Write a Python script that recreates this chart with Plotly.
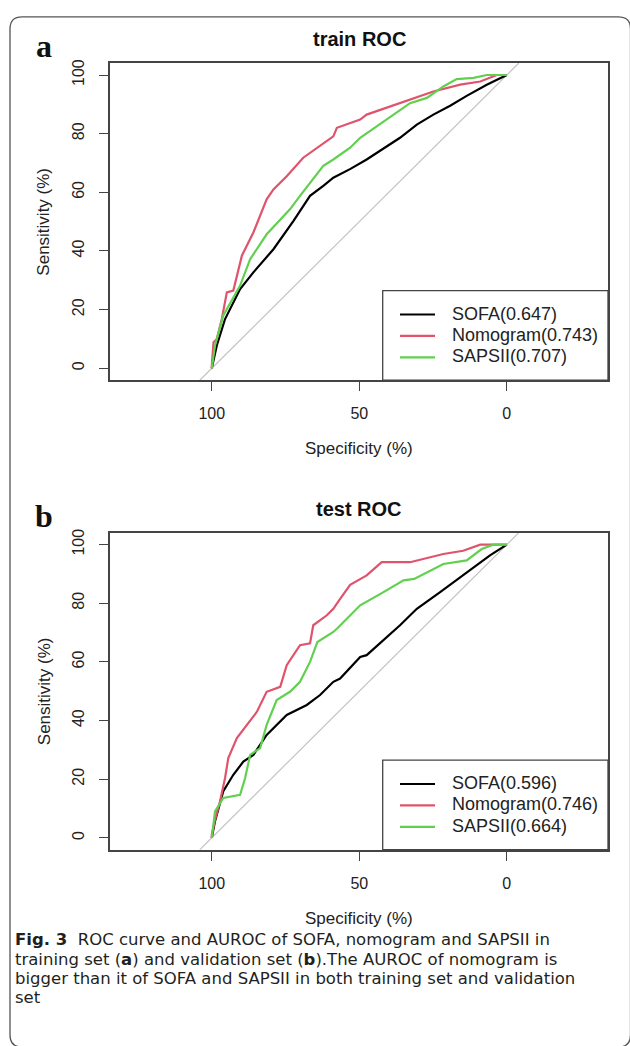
import plotly.graph_objects as go

# ---------------- data ----------------
model_names = ["SOFA", "Nomogram", "SAPSII"]
train_auc = ["0.647", "0.743", "0.707"]
test_auc = ["0.596", "0.746", "0.664"]
x_ticks = [100, 50, 0]
y_ticks = [0, 20, 40, 60, 80, 100]

train_sofa_spec = [100, 98.3, 95.5, 90.4, 85.9, 79.1, 72.3, 69.5, 66.7, 62.2, 58.8, 53, 47.5, 36.2, 30.5, 24.9, 19.2, 13.6, 6.8, 0]
train_sofa_sens = [0, 7.8, 16.8, 27, 32.7, 40.6, 50.3, 54.5, 58.8, 62.2, 65, 68, 71.2, 78.6, 83.1, 86.5, 89.5, 92.9, 96.7, 100]

train_nom_spec = [100, 100, 99.4, 98.3, 96.6, 94.9, 92.7, 89.8, 85.9, 81.4, 79.1, 74.6, 69, 64.4, 58.8, 57.6, 49.7, 47.5, 36.2, 24.9, 15.8, 9, 3.4, 0]
train_nom_sens = [0, 1, 8.9, 10, 16.8, 25.9, 26.5, 38.4, 46.3, 57.6, 61, 65.5, 71.8, 75.2, 79.1, 82, 84.8, 86.5, 90.4, 94.4, 96.7, 97.8, 100, 100]

train_saps_spec = [100, 98.9, 96.1, 90.4, 87, 81.4, 73.5, 70.1, 62.2, 58.8, 53.1, 49.7, 44.1, 38.4, 32.8, 27.1, 21.5, 17, 11.3, 6.8, 0]
train_saps_sens = [0, 7.8, 18, 28.2, 37.2, 45.7, 54.2, 58.8, 69, 71.2, 75.2, 78.6, 82.5, 86.5, 90.4, 92.2, 96.1, 98.6, 99, 100, 100]

test_sofa_spec = [100, 98.9, 96.1, 92.7, 89.3, 85.9, 81.4, 74.6, 67.8, 63.3, 58.8, 56.5, 49.7, 47.5, 36.2, 30.5, 22.6, 13.6, 5.7, 0]
test_sofa_sens = [0, 5.7, 15.9, 21.5, 26, 28.3, 35.1, 41.9, 45.3, 48.7, 53.2, 54.3, 61.7, 62.3, 72.5, 78.1, 83.8, 90.6, 96.3, 100]

test_nom_spec = [100, 100, 98.9, 97.2, 95.5, 94.4, 91.5, 88.1, 84.7, 81.4, 76.8, 74.6, 70.1, 66.7, 65.6, 61, 58.8, 56.5, 53.1, 47.5, 42.4, 32.8, 21.5, 14.8, 9, 0]
test_nom_sens = [0, 1.2, 6.2, 12.5, 20.4, 27.2, 34, 38.5, 43, 49.8, 51.5, 58.9, 65.7, 66.3, 72.5, 75.9, 78.1, 81.5, 86.3, 89.5, 94, 94, 96.8, 97.9, 100, 100]

test_saps_spec = [100, 98.9, 96.1, 90.4, 88.7, 87, 83.6, 81.4, 78, 73.5, 70.1, 66.7, 64.2, 58.8, 57.6, 49.7, 41.8, 35, 31.4, 21.5, 13.6, 11.3, 8.5, 4.6, 0]
test_saps_sens = [0, 9, 13.6, 14.7, 20.4, 28.3, 30.6, 38.5, 47, 49.8, 53.2, 60, 66.8, 70.2, 71.3, 79.3, 83.8, 87.8, 88.3, 93.4, 94.6, 96.3, 98.5, 100, 100]

caption_lines = [
    "<b>Fig. 3</b>  ROC curve and AUROC of SOFA, nomogram and SAPSII in",
    "training set (<b>a</b>) and validation set (<b>b</b>).The AUROC of nomogram is",
    "bigger than it of SOFA and SAPSII in both training set and validation",
    "set",
]

# ---------------- layout constants ----------------
W, H = 630, 1046
colors = ["#000000", "#DF536B", "#61D04F"]
FONT = "Liberation Sans, Arial, sans-serif"
X_RANGE = [134.5, -34.3]
Y_RANGE = [-4.07, 104.07]
box_left, box_right = 110, 608
panels = [
    dict(top=59.3, bottom=377.7, title="train ROC", letter="a", auc=train_auc,
         series=[(train_sofa_spec, train_sofa_sens), (train_nom_spec, train_nom_sens), (train_saps_spec, train_saps_sens)]),
    dict(top=530.7, bottom=849.0, title="test ROC", letter="b", auc=test_auc,
         series=[(test_sofa_spec, test_sofa_sens), (test_nom_spec, test_nom_sens), (test_saps_spec, test_saps_sens)]),
]
legend_row_offsets = [67, 45.5, 24]  # px above the box bottom


def fx(p):
    return p / W


def fy(p):
    return 1 - p / H


fig = go.Figure()
annotations = []
shapes = []

for i, pnl in enumerate(panels):
    sfx = "" if i == 0 else str(i + 1)
    xa, ya = "x" + sfx, "y" + sfx
    # identity (chance) line across the y-range
    fig.add_trace(go.Scatter(x=[100 - Y_RANGE[0], 100 - Y_RANGE[1]], y=Y_RANGE, mode="lines",
                             line=dict(color="#C4C4C4", width=1.2), showlegend=False,
                             hoverinfo="skip", xaxis=xa, yaxis=ya))
    for k, (sp, se) in enumerate(pnl["series"]):
        fig.add_trace(go.Scatter(x=sp, y=se, mode="lines",
                                 name=f"{model_names[k]}({pnl['auc'][k]})",
                                 line=dict(color=colors[k], width=2.2),
                                 xaxis=xa, yaxis=ya, showlegend=False))
    axis_common = dict(showline=True, mirror=True, linecolor="#444444", linewidth=1.5,
                       showgrid=False, zeroline=False, ticks="outside", ticklen=9,
                       tickcolor="#444444", tickwidth=1.3,
                       tickfont=dict(family=FONT, size=16, color="#222222"))
    fig.update_layout(**{
        "xaxis" + sfx: dict(domain=[fx(box_left), fx(box_right)], range=X_RANGE,
                             tickvals=x_ticks, ticktext=[str(v) for v in x_ticks],
                             anchor=ya, ticklabelstandoff=9, **axis_common),
        "yaxis" + sfx: dict(domain=[fy(pnl["bottom"]), fy(pnl["top"])], range=Y_RANGE,
                             tickvals=y_ticks, tickangle=-90, anchor=xa,
                             ticklabelstandoff=9, **axis_common),
    })
    # legend box + entries
    shapes.append(dict(type="rect", xref="paper", yref="paper",
                       x0=fx(382.7), x1=fx(box_right), y0=fy(pnl["bottom"]), y1=fy(pnl["bottom"] - 90),
                       line=dict(color="#444444", width=1.3)))
    for k in range(len(model_names)):
        ry = pnl["bottom"] - legend_row_offsets[k]
        shapes.append(dict(type="line", xref="paper", yref="paper",
                           x0=fx(400), x1=fx(435), y0=fy(ry + 1), y1=fy(ry + 1),
                           line=dict(color=colors[k], width=2.2)))
        annotations.append(dict(text=f"{model_names[k]}({pnl['auc'][k]})", x=fx(450), y=fy(ry),
                                xref="paper", yref="paper", showarrow=False,
                                xanchor="left", yanchor="middle",
                                font=dict(family=FONT, size=18, color="#222222")))
    cy = (pnl["top"] + pnl["bottom"]) / 2
    annotations += [
        dict(text=f"<b>{pnl['title']}</b>", x=fx(359), y=fy(pnl["top"] - 24), xref="paper", yref="paper",
             showarrow=False, xanchor="center", yanchor="middle",
             font=dict(family=FONT, size=20, color="#111111")),
        dict(text="Specificity (%)", x=fx(359), y=fy(pnl["bottom"] + 69), xref="paper", yref="paper",
             showarrow=False, xanchor="center", yanchor="middle",
             font=dict(family=FONT, size=17, color="#222222")),
        dict(text="Sensitivity (%)", x=fx(44), y=fy(cy), xref="paper", yref="paper", textangle=-90,
             showarrow=False, xanchor="center", yanchor="middle",
             font=dict(family=FONT, size=17, color="#222222")),
        dict(text=f"<b>{pnl['letter']}</b>", x=fx(44), y=fy(pnl["top"] - 17), xref="paper", yref="paper",
             showarrow=False, xanchor="center", yanchor="middle",
             font=dict(family="Liberation Serif, Times New Roman, serif", size=32, color="#111111")),
    ]

# caption: one annotation per line so the line pitch matches the reference
caption_top, caption_pitch = 939.5, 19.4
for j, line in enumerate(caption_lines):
    annotations.append(dict(text=line, x=fx(14), y=fy(caption_top + j * caption_pitch),
                            xref="paper", yref="paper", showarrow=False, borderpad=0,
                            xanchor="left", yanchor="middle", align="left",
                            font=dict(family="DejaVu Sans, sans-serif", size=16.5, color="#231F20")))

# outer rounded frame (runs off the right and bottom edges like the reference)
L, T, R, B, r = 10, 13, 630.5, 1047, 12
path = (f"M {fx(L)},{fy(T + r)} Q {fx(L)},{fy(T)} {fx(L + r)},{fy(T)} "
        f"L {fx(R - r)},{fy(T)} Q {fx(R)},{fy(T)} {fx(R)},{fy(T + r)} "
        f"L {fx(R)},{fy(B - r)} Q {fx(R)},{fy(B)} {fx(R - r)},{fy(B)} "
        f"L {fx(L + r)},{fy(B)} Q {fx(L)},{fy(B)} {fx(L)},{fy(B - r)} Z")
shapes.append(dict(type="path", xref="paper", yref="paper", path=path,
                   line=dict(color="#555555", width=1.3)))

fig.update_layout(width=W, height=H, margin=dict(l=0, r=0, t=0, b=0),
                  paper_bgcolor="white", plot_bgcolor="white",
                  annotations=annotations, shapes=shapes, showlegend=False)

fig.write_html("out.html", config={"displayModeBar": False},
               post_script="document.body.style.margin='0';document.body.style.overflow='hidden';")
